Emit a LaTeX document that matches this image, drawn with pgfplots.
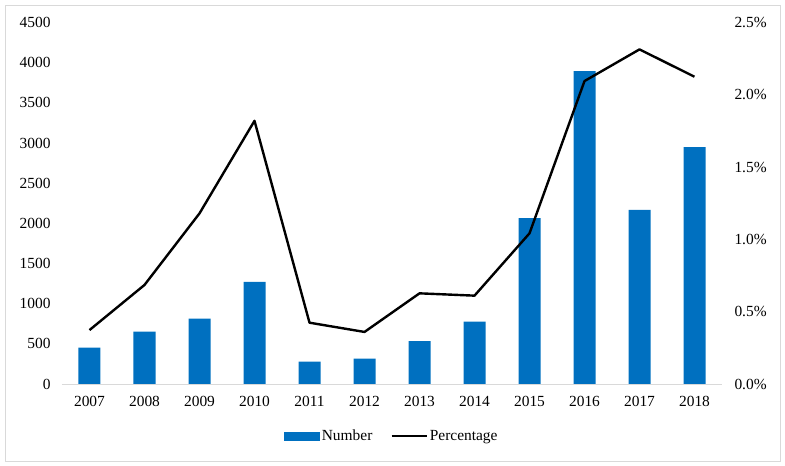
\documentclass[border=0pt]{standalone}
\usepackage{fontspec}
\setmainfont{Liberation Serif}
\usepackage{pgfplots}
\pgfplotsset{compat=1.18}
\definecolor{barblue}{RGB}{0,112,192}
\definecolor{framegray}{RGB}{217,217,217}

\begin{document}
\begin{tikzpicture}
\useasboundingbox (-62bp,-82bp) rectangle (723bp,384bp);
\draw[framegray, line width=0.8bp] (-57bp,-77bp) rectangle (718.5bp,379bp);
\pgfplotsset{
  common/.style={
    scale only axis, width=660bp, height=361.5bp,
    xmin=-0.5, xmax=11.5,
    major tick length=0pt, tick style={draw=none},
    tick label style={font=\fontsize{15.5}{18}\selectfont},
    /pgf/number format/assume math mode=true,
    /pgf/number format/set thousands separator={},
  }
}
% ---- bars: number of items
\begin{axis}[common,
    ybar, bar width=22bp,
    ymin=0, ymax=4500, ytick={0,500,...,4500},
    xtick={0,...,11},
    xticklabels={2007,2008,2009,2010,2011,2012,2013,2014,2015,2016,2017,2018},
    axis x line*=bottom, axis y line*=left,
    x axis line style={-, framegray, line width=0.8bp},
    y axis line style={draw=none},
    yticklabel style={xshift=-8bp},
    xticklabel style={yshift=-9bp},
]
\addplot[fill=barblue, draw=none] coordinates {
  (0,452) (1,651) (2,813) (3,1270) (4,278) (5,315)
  (6,535) (7,776) (8,2066) (9,3896) (10,2166) (11,2950)
};
\end{axis}
% ---- line: percentage
\begin{axis}[common,
    ymin=0, ymax=2.5, ytick={0,0.5,...,2.5},
    yticklabel={\pgfmathprintnumber[fixed,fixed zerofill,precision=1]{\tick}\%},
    axis x line=none, axis y line*=right,
    y axis line style={draw=none},
    yticklabel style={xshift=9bp},
    legend style={at={(0.5,-0.144)}, anchor=center, draw=none, fill=none,
      legend columns=2, font=\fontsize{15.5}{18}\selectfont,
      /tikz/every even column/.append style={column sep=16bp}},
    legend image code/.code={\draw[#1] (0bp,0bp) -- (35bp,0bp);},
]
\addlegendimage{legend image code/.code={\fill[barblue] (0bp,-4bp) rectangle (35bp,4bp);}}
\addlegendentry{Number}
\addplot[black, line width=2.4bp, line join=round, mark=none] coordinates {
  (0,0.373) (1,0.685) (2,1.18) (3,1.82) (4,0.424) (5,0.36)
  (6,0.627) (7,0.611) (8,1.042) (9,2.095) (10,2.314) (11,2.125)
};
\addlegendentry{Percentage}
\end{axis}
\end{tikzpicture}
\end{document}
